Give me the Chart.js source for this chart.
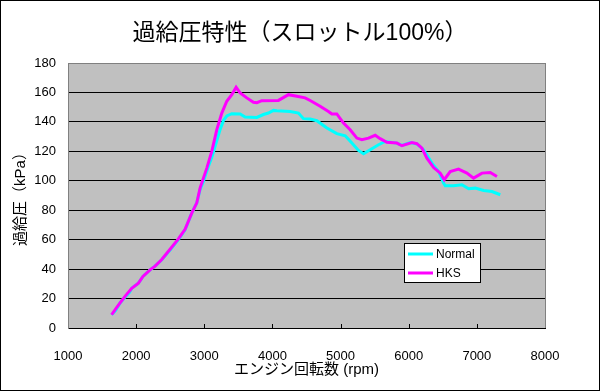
<!DOCTYPE html>
<html>
<head>
<meta charset="utf-8">
<script src="https://cdn.jsdelivr.net/npm/chart.js@4.4.0/dist/chart.umd.min.js"></script>
<style>
html, body { margin: 0; padding: 0; background: #fff; }
</style>
</head>
<body>
<canvas id="boostChart" width="600" height="391"></canvas>
<script>
// data
let normalRpm = [1640, 1700, 1764, 1837, 1900, 1935, 2033, 2100, 2204, 2278, 2376, 2498, 2620, 2718, 2816, 2890, 2938, 2990, 3060, 3110, 3158, 3232, 3281, 3330, 3404, 3526, 3599, 3771, 3868, 3941, 4015, 4064, 4260, 4382, 4455, 4554, 4652, 4799, 4945, 5068, 5166, 5263, 5337, 5435, 5557, 5655, 5826, 5900, 6022, 6120, 6218, 6341, 6438, 6511, 6536, 6658, 6781, 6879, 6977, 7099, 7222, 7344];
let normalKpa = [9, 12, 17, 21, 24, 27, 30.5, 35, 39.5, 42, 46.3, 53, 60, 66.7, 78, 85, 94, 100, 109.7, 116, 123.3, 134.7, 141, 144, 145.6, 145.4, 143.3, 143, 145, 146, 147.8, 147.6, 147.1, 146, 142.2, 142, 140.8, 135.9, 132, 130.6, 125.6, 120.6, 118.4, 121.1, 124.5, 126.7, 125.6, 124, 126, 125, 121.1, 112, 106.3, 98.4, 96.6, 96.6, 97.3, 94.6, 95, 93.4, 92.7, 90.5];

let hksRpm = [1640, 1700, 1764, 1837, 1935, 2033, 2100, 2204, 2278, 2376, 2498, 2620, 2718, 2816, 2890, 2938, 3037, 3110, 3184, 3257, 3330, 3404, 3467, 3526, 3624, 3721, 3771, 3844, 4088, 4235, 4358, 4480, 4554, 4700, 4822, 4872, 4945, 5043, 5141, 5239, 5313, 5410, 5508, 5581, 5680, 5826, 5900, 6047, 6120, 6194, 6267, 6365, 6463, 6521, 6609, 6731, 6854, 6952, 7075, 7197, 7295];
let hksKpa = [9, 13, 17, 21.5, 27, 30.5, 35, 39.5, 42, 46.5, 53.5, 60.5, 67, 78, 85, 95, 108.6, 120, 134.7, 146, 154, 158.5, 163.5, 159.7, 156.3, 153.3, 153, 154.4, 154.6, 158.5, 157.4, 156.3, 154.5, 150.6, 147.1, 145.4, 145.4, 139.2, 134.7, 129, 127.9, 129, 130.9, 128.6, 126.1, 125.6, 123.8, 126, 125.2, 122.2, 115.4, 109, 105.2, 100.7, 106.3, 107.9, 105.2, 101.8, 105.2, 105.6, 102.9];

let seriesNames = ['Normal', 'HKS'];
let xMin = 1000, xMax = 8000, xStep = 1000;
let yMin = 0, yMax = 180, yStep = 20;

let fontFamily = "'Liberation Sans', 'Noto Sans CJK JP', Arial, sans-serif";

function toPoints(xs, ys) {
    return xs.map(function (x, i) { return { x: x, y: ys[i] }; });
}

// gray plot area, outer frame, right border and the small inner tick marks
let plotFrame = {
    id: 'plotFrame',
    beforeDraw: function (chart) {
        let c = chart.ctx, a = chart.chartArea;
        c.save();
        c.fillStyle = '#fff';
        c.fillRect(0, 0, chart.width, chart.height);
        c.fillStyle = '#C0C0C0';
        c.fillRect(a.left, a.top, a.right - a.left, a.bottom - a.top);
        c.restore();
    },
    beforeDatasetsDraw: function (chart) {
        let c = chart.ctx, a = chart.chartArea, xs = chart.scales.x;
        c.save();
        c.strokeStyle = '#808080';
        c.lineWidth = 1;
        c.beginPath();
        c.moveTo(Math.round(a.right) + 0.5, a.top);
        c.lineTo(Math.round(a.right) + 0.5, a.bottom);
        c.stroke();
        c.strokeStyle = '#000';
        c.beginPath();
        for (let v = xMin + xStep; v < xMax; v += xStep) {
            let px = Math.round(xs.getPixelForValue(v)) + 0.5;
            c.moveTo(px, a.bottom);
            c.lineTo(px, a.bottom - 4);
        }
        c.stroke();
        c.restore();
    },
    afterDraw: function (chart) {
        let c = chart.ctx, a = chart.chartArea;
        c.save();
        // legend box inside the plot
        let bx = a.left + 336, by = a.top + 180, bw = 76, bh = 39;
        c.fillStyle = '#fff';
        c.fillRect(bx, by, bw, bh);
        c.strokeStyle = '#000';
        c.lineWidth = 1;
        c.strokeRect(bx + 0.5, by + 0.5, bw, bh);
        c.font = '12px ' + fontFamily;
        c.textBaseline = 'middle';
        chart.data.datasets.forEach(function (ds, i) {
            let ly = by + 11 + i * 19;
            c.strokeStyle = ds.borderColor;
            c.lineWidth = 3;
            c.beginPath();
            c.moveTo(bx + 4, ly);
            c.lineTo(bx + 29, ly);
            c.stroke();
            c.fillStyle = '#000';
            c.fillText(ds.label, bx + 32, ly + 1);
        });
        // outer frame
        c.strokeStyle = '#000';
        c.lineWidth = 1;
        c.strokeRect(0.5, 0.5, chart.width - 1, chart.height - 1);
        c.restore();
    }
};

let ctx = document.getElementById('boostChart').getContext('2d');
let boostChart = new Chart(ctx, {
    type: 'line',
    data: {
        datasets: [{
            label: seriesNames[0],
            data: toPoints(normalRpm, normalKpa),
            borderColor: '#00FFFF',
            borderWidth: 3,
            pointRadius: 0,
            tension: 0,
            fill: false,
            order: 1
        }, {
            label: seriesNames[1],
            data: toPoints(hksRpm, hksKpa),
            borderColor: '#FF00FF',
            borderWidth: 3,
            pointRadius: 0,
            tension: 0,
            fill: false,
            order: 0
        }]
    },
    options: {
        responsive: false,
        animation: false,
        layout: { padding: 0 },
        plugins: {
            legend: { display: false },
            tooltip: { enabled: false },
            title: {
                display: true,
                text: '過給圧特性（スロットル100%）',
                color: '#000',
                font: { family: fontFamily, size: 23, weight: 'normal' },
                padding: { top: 20, bottom: 15.4 }
            }
        },
        scales: {
            x: {
                type: 'linear',
                min: xMin,
                max: xMax,
                afterFit: function (s) { s.height = 63; },
                ticks: {
                    stepSize: xStep,
                    color: '#000',
                    padding: 13,
                    maxRotation: 0,
                    font: { family: fontFamily, size: 13 },
                    callback: function (v) { return String(v); }
                },
                grid: { display: false },
                border: { color: '#000', width: 1 },
                title: {
                    display: true,
                    text: 'エンジン回転数 (rpm)',
                    color: '#000',
                    font: { family: fontFamily, size: 15 },
                    padding: { top: 0, bottom: 12 }
                }
            },
            y: {
                min: yMin,
                max: yMax,
                afterFit: function (s) { s.width = 68; },
                ticks: {
                    stepSize: yStep,
                    color: '#000',
                    padding: 12,
                    font: { family: fontFamily, size: 13 }
                },
                grid: {
                    drawTicks: false,
                    color: function (c) { return c.tick && c.tick.value === yMax ? '#808080' : '#000'; },
                    lineWidth: 1
                },
                border: { color: '#808080', width: 1 },
                title: {
                    display: true,
                    text: '過給圧（kPa）',
                    color: '#000',
                    font: { family: fontFamily, size: 15 },
                    padding: { top: 12, bottom: 0 }
                }
            },
            // empty right margin so the title stays centred on the whole canvas
            yRight: {
                position: 'right',
                min: yMin,
                max: yMax,
                afterFit: function (s) { s.width = 55; },
                ticks: { display: false },
                grid: { display: false },
                border: { display: false }
            }
        }
    },
    plugins: [plotFrame]
});
</script>
</body>
</html>
